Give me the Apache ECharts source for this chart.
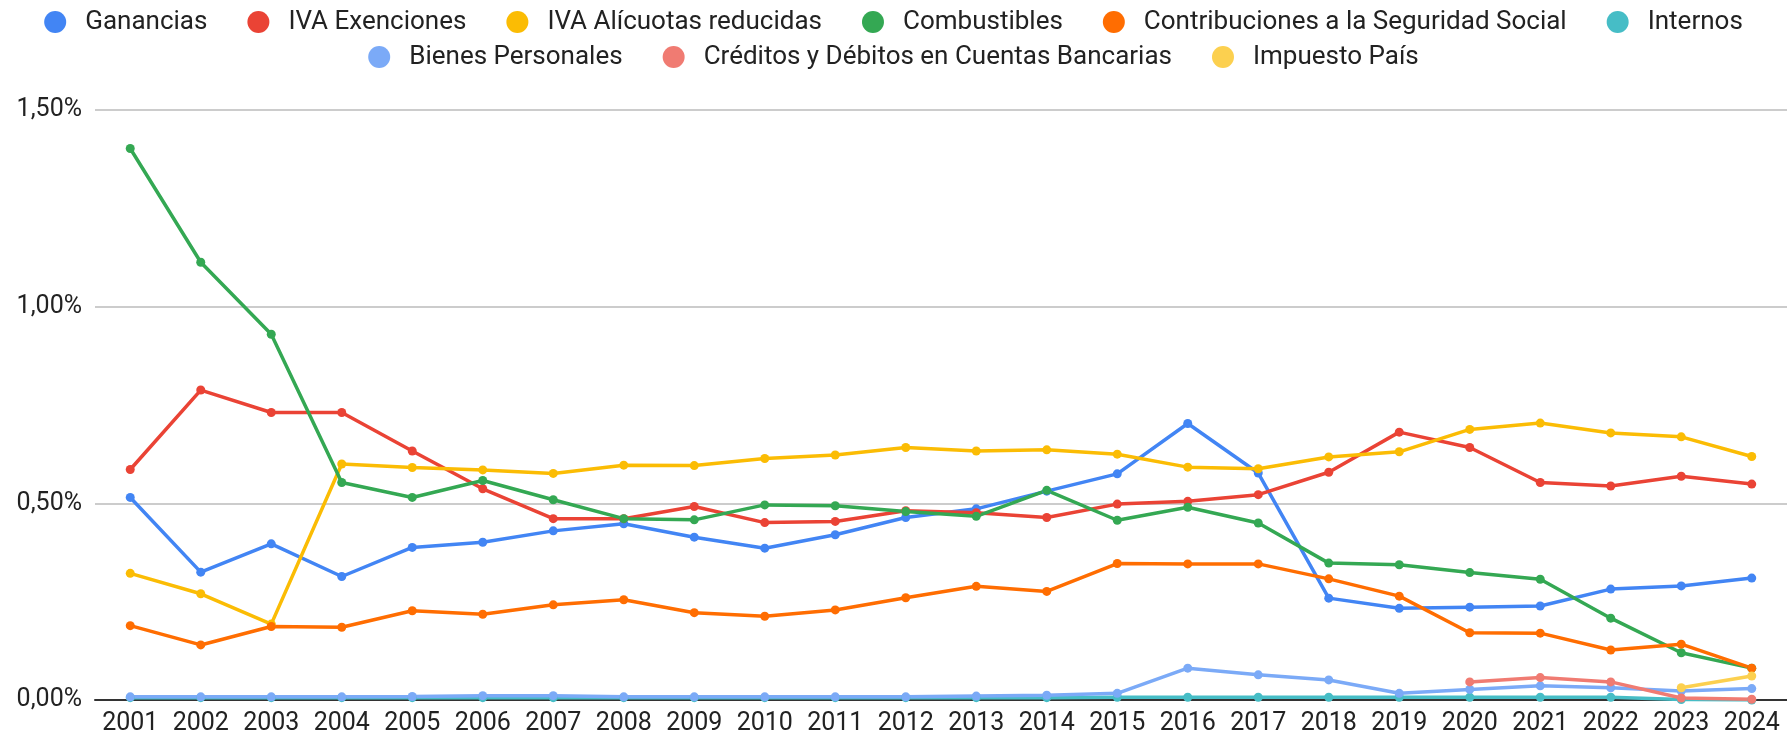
<!DOCTYPE html>
<html>
<head>
<meta charset="utf-8">
<script src="https://cdn.jsdelivr.net/npm/echarts@6/dist/echarts.min.js"></script>
<style>
html,body{margin:0;padding:0;background:#fff;}
#chart{width:1787px;height:738px;}
</style>
</head>
<body>
<div id="chart"></div>
<script>
const years = ['2001','2002','2003','2004','2005','2006','2007','2008','2009','2010','2011','2012','2013','2014','2015','2016','2017','2018','2019','2020','2021','2022','2023','2024'];
const yTicks = [0, 0.5, 1.0, 1.5];

const ganancias = [0.515,0.325,0.397,0.314,0.388,0.401,0.430,0.448,0.414,0.386,0.420,0.464,0.486,0.531,0.575,0.703,0.577,0.259,0.233,0.236,0.239,0.282,0.290,0.310];
const ivaExenciones = [0.586,0.788,0.731,0.731,0.633,0.537,0.461,0.461,0.492,0.451,0.454,0.481,0.476,0.464,0.498,0.505,0.522,0.579,0.681,0.642,0.553,0.544,0.569,0.549];
const ivaAlicuotas = [0.322,0.270,0.193,0.600,0.591,0.585,0.576,0.597,0.596,0.614,0.623,0.642,0.633,0.636,0.625,0.592,0.588,0.618,0.631,0.688,0.704,0.679,0.669,0.619];
const combustibles = [1.402,1.113,0.930,0.553,0.515,0.558,0.509,0.461,0.458,0.496,0.494,0.479,0.467,0.533,0.457,0.490,0.450,0.348,0.344,0.324,0.307,0.208,0.120,0.081];
const contribuciones = [0.189,0.140,0.187,0.185,0.227,0.218,0.242,0.255,0.222,0.213,0.229,0.260,0.289,0.276,0.347,0.346,0.346,0.308,0.264,0.171,0.170,0.127,0.142,0.081];
const internos = [0.006,0.006,0.006,0.006,0.006,0.006,0.006,0.006,0.006,0.006,0.006,0.006,0.006,0.006,0.007,0.007,0.007,0.007,0.007,0.007,0.007,0.007,0.001,0.000];
const bienesPersonales = [0.008,0.008,0.008,0.008,0.009,0.011,0.011,0.008,0.008,0.008,0.008,0.008,0.010,0.012,0.017,0.081,0.064,0.051,0.017,0.027,0.036,0.031,0.023,0.029];
const creditosDebitos = [null,null,null,null,null,null,null,null,null,null,null,null,null,null,null,null,null,null,null,0.046,0.057,0.046,0.005,0.002];
const impuestoPais = [null,null,null,null,null,null,null,null,null,null,null,null,null,null,null,null,null,null,null,null,null,null,0.031,0.061];

const seriesNames = ['Ganancias','IVA Exenciones','IVA Alícuotas reducidas','Combustibles','Contribuciones a la Seguridad Social','Internos','Bienes Personales','Créditos y Débitos en Cuentas Bancarias','Impuesto País'];
const seriesData = [ganancias, ivaExenciones, ivaAlicuotas, combustibles, contribuciones, internos, bienesPersonales, creditosDebitos, impuestoPais];
const colors = ['#4285F4','#EA4335','#FBBC04','#34A853','#FF6D01','#46BDC6','#7BAAF7','#F07B72','#FCD04F'];

const legendCommon = {
  icon: 'circle',
  itemWidth: 22,
  itemHeight: 22,
  itemGap: 40,
  left: 'center',
  textStyle: { fontFamily: 'Roboto', fontSize: 26, color: '#222', padding: [0,0,0,14] }
};

const chart = echarts.init(document.getElementById('chart'), null, { renderer: 'canvas' });
chart.setOption({
  animation: false,
  color: colors,
  legend: [
    Object.assign({}, legendCommon, { top: 4, data: seriesNames.slice(0, 6) }),
    Object.assign({}, legendCommon, { top: 39, data: seriesNames.slice(6) })
  ],
  grid: { left: 95, right: 0, top: 110, bottom: 38, containLabel: false },
  xAxis: {
    type: 'category',
    data: years,
    boundaryGap: true,
    axisLine: { lineStyle: { color: '#333', width: 2 } },
    axisTick: { show: false },
    axisLabel: { fontFamily: 'Roboto', fontSize: 25, color: '#222', margin: 11, interval: 0 }
  },
  yAxis: {
    type: 'value',
    min: yTicks[0],
    max: yTicks[yTicks.length - 1],
    interval: 0.5,
    axisLine: { show: false },
    axisTick: { show: false },
    splitLine: { lineStyle: { color: '#ccc', width: 2 } },
    axisLabel: {
      fontFamily: 'Roboto', fontSize: 25, color: '#222', margin: 13,
      formatter: v => v.toFixed(2).replace('.', ',') + '%'
    }
  },
  series: seriesNames.map((n, i) => ({
    name: n,
    type: 'line',
    data: seriesData[i],
    symbol: 'circle',
    symbolSize: 9,
    showSymbol: true,
    lineStyle: { width: 3.5 },
    connectNulls: false
  }))
});
</script>
</body>
</html>
